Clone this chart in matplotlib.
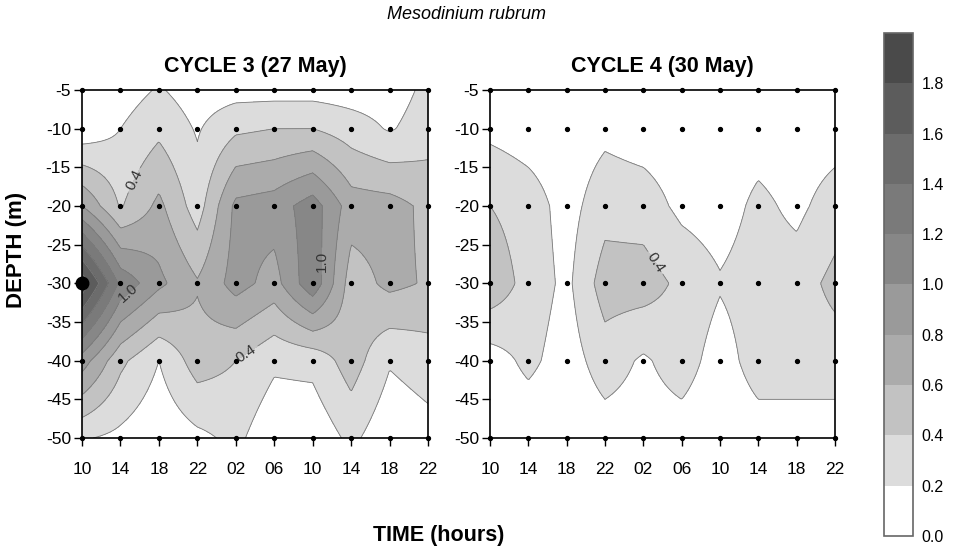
import numpy as np
import matplotlib.pyplot as plt
from matplotlib.colors import ListedColormap, BoundaryNorm

plt.rcParams['font.family'] = ['Liberation Sans', 'DejaVu Sans']
plt.rcParams['axes.unicode_minus'] = False

# sampling grid
depths = [-5, -10, -20, -30, -40, -50]
hours = [10, 14, 18, 22, 26, 30, 34, 38, 42, 46]
time_labels = ["10", "14", "18", "22", "02", "06", "10", "14", "18", "22"]

# Mesodinium rubrum, rows = depths, cols = hours
cycle3 = [
    [0.05, 0.10, 0.22, 0.10, 0.12, 0.12, 0.12, 0.10, 0.10, 0.25],
    [0.05, 0.20, 0.35, 0.18, 0.36, 0.40, 0.40, 0.30, 0.18, 0.30],
    [0.80, 0.38, 0.65, 0.30, 0.85, 0.90, 1.10, 0.70, 0.68, 0.55],
    [1.95, 1.15, 0.85, 0.62, 0.88, 0.72, 1.15, 0.50, 0.65, 0.58],
    [0.90, 0.45, 0.20, 0.50, 0.40, 0.24, 0.26, 0.50, 0.22, 0.30],
    [0.22, 0.15, 0.05, 0.15, 0.25, 0.05, 0.05, 0.25, 0.05, 0.12],
]
cycle4 = [
    [0.05, 0.05, 0.05, 0.05, 0.05, 0.05, 0.05, 0.05, 0.05, 0.05],
    [0.15, 0.10, 0.08, 0.15, 0.10, 0.08, 0.08, 0.10, 0.08, 0.10],
    [0.40, 0.30, 0.12, 0.32, 0.30, 0.15, 0.10, 0.25, 0.15, 0.30],
    [0.55, 0.32, 0.15, 0.50, 0.50, 0.35, 0.22, 0.30, 0.30, 0.46],
    [0.10, 0.25, 0.10, 0.30, 0.17, 0.30, 0.10, 0.30, 0.30, 0.30],
    [0.05, 0.05, 0.05, 0.10, 0.10, 0.10, 0.05, 0.10, 0.10, 0.10],
]

levels = [0.0, 0.2, 0.4, 0.6, 0.8, 1.0, 1.2, 1.4, 1.6, 1.8, 2.0]
label_levels = [0.4, 1.0]
grays = ['#ffffff', '#dcdcdc', '#c2c2c2', '#ababab', '#9a9a9a',
         '#878787', '#7a7a7a', '#6c6c6c', '#5c5c5c', '#4a4a4a']
cmap = ListedColormap(grays)
norm = BoundaryNorm(levels, cmap.N)


def upsample(z):
    # bilinear refinement of the coarse sampling grid
    z = np.array(z, dtype=float)
    xf = np.linspace(hours[0], hours[-1], 241)
    yf = np.linspace(-50, -5, 241)
    tmp = np.array([np.interp(xf, hours, row) for row in z])
    d = np.array(depths)[::-1]
    tmp = tmp[::-1]
    zf = np.array([np.interp(yf, d, tmp[:, j]) for j in range(len(xf))]).T
    return xf, yf, zf


def panel(ax, z, title):
    xf, yf, zf = upsample(z)
    ax.set_xlim(hours[0], hours[-1])
    ax.set_ylim(-50, -5)

    ax.contourf(xf, yf, zf, levels=levels, cmap=cmap, norm=norm)
    other = [v for v in levels[1:-1] if v not in label_levels]
    ax.contour(xf, yf, zf, levels=other, colors='#7a7a7a', linewidths=0.6)

    # let matplotlib pick label spots, then keep only the interior ones
    probe = ax.contour(xf, yf, zf, levels=label_levels)
    texts = ax.clabel(probe, fmt='%.1f', fontsize=11)
    keep = [t.get_position() for t in texts
            if hours[0] + 3 < t.get_position()[0] < hours[-1] - 3]
    probe.remove()

    cs = ax.contour(xf, yf, zf, levels=label_levels, colors='#7a7a7a', linewidths=0.6)
    if keep:
        ax.clabel(cs, fmt='%.1f', fontsize=11, colors='#333333',
                  inline_spacing=3, manual=keep)

    X, Y = np.meshgrid(hours, depths)
    ax.plot(X.ravel(), Y.ravel(), 'o', color='black', ms=2.8, clip_on=False, zorder=5)
    ax.set_xlim(hours[0], hours[-1])
    ax.set_ylim(-50, -5)
    ax.set_xticks(hours)
    ax.set_xticklabels(time_labels)
    ax.set_yticks(np.arange(-50, -4, 5))
    ax.tick_params(direction='out', length=6, width=1, labelsize=12.5, pad=2)
    ax.tick_params(axis='x', pad=11)
    for s in ax.spines.values():
        s.set_linewidth(1.2)
    ax.set_title(title, fontsize=15.5, fontweight='bold', pad=13)


fig = plt.figure(figsize=(9.58, 5.5), dpi=100)
ax1 = fig.add_axes([0.0856, 0.2036, 0.3612, 0.6327])
ax2 = fig.add_axes([0.5115, 0.2036, 0.3601, 0.6327])
cax = fig.add_axes([0.9228, 0.0255, 0.0303, 0.9145])

panel(ax1, cycle3, "CYCLE 3 (27 May)")
panel(ax2, cycle4, "CYCLE 4 (30 May)")

# largest value marked with a bigger dot
z3 = np.array(cycle3)
i, j = np.unravel_index(np.argmax(z3), z3.shape)
ax1.plot(hours[j], depths[i], 'o', color='black', ms=9, clip_on=False, zorder=6)

cb = fig.colorbar(plt.cm.ScalarMappable(norm=norm, cmap=cmap), cax=cax,
                  ticks=levels[:-1])
cb.ax.set_yticklabels(["%.1f" % v for v in levels[:-1]])
cb.ax.minorticks_off()
cb.ax.tick_params(length=0, labelsize=11.5, pad=6)
cb.outline.set_edgecolor('#666666')
cb.outline.set_linewidth(1.2)

fig.text(0.487, 0.973, "Mesodinium rubrum", style='italic', fontsize=13,
         ha='center', va='center')
fig.text(0.017, 0.545, "DEPTH (m)", rotation=90, fontsize=16, fontweight='bold',
         ha='center', va='center')
fig.text(0.458, 0.027, "TIME (hours)", fontsize=15.5, fontweight='bold',
         ha='center', va='center')

fig.savefig("out.png", dpi=100)
